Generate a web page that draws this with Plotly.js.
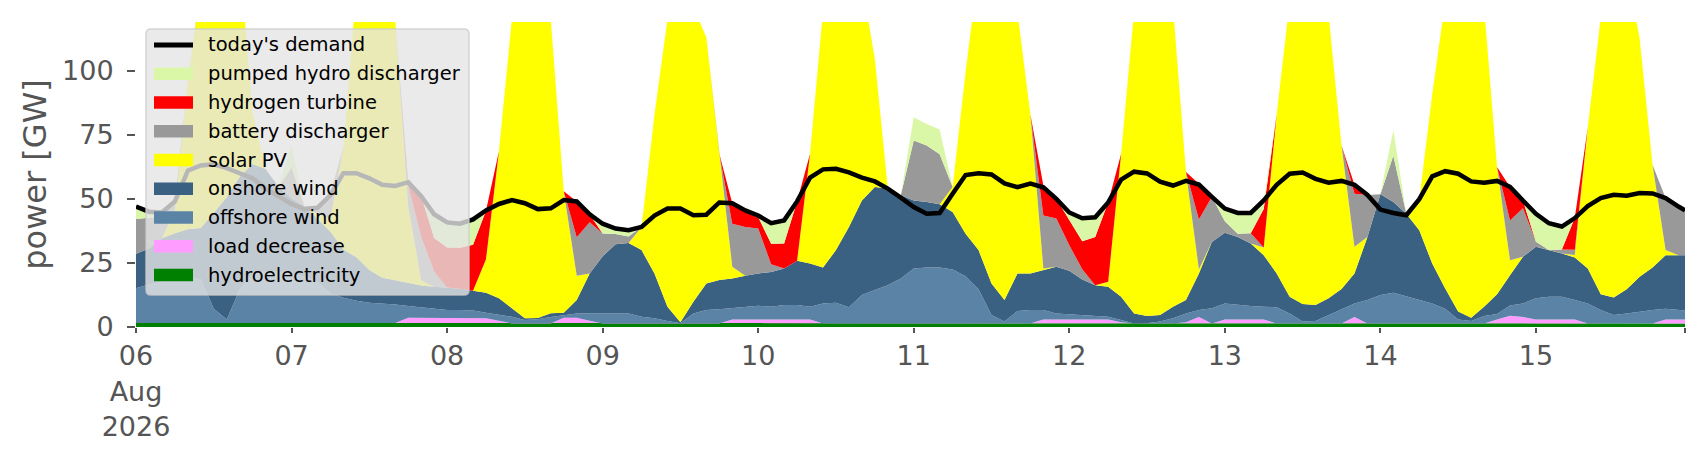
<!DOCTYPE html>
<html>
<head>
<meta charset="utf-8">
<script src="https://cdn.plot.ly/plotly-3.0.1.min.js"></script>
<style>
  html, body { margin: 0; padding: 0; background: #ffffff; }
  #chart { width: 1706px; height: 460px; }
</style>
</head>
<body>
<div id="chart"></div>
<script>
// Power dispatch, 06-15 Aug 2026, read every 2 hours (last sample 15 Aug 23:00), GW

const hydroelectricity = [
  1.6, 1.6, 1.6, 1.6, 1.6, 1.6, 1.6, 1.6, 1.6, 1.6, 1.6, 1.6,
  1.6, 1.6, 1.6, 1.6, 1.6, 1.6, 1.6, 1.6, 1.6, 1.6, 1.6, 1.6,
  1.4, 1.4, 1.4, 1.4, 1.4, 1.4, 1.4, 1.4, 1.4, 1.4, 1.4, 1.4,
  1.4, 1.4, 1.4, 1.4, 1.4, 1.4, 1.4, 1.4, 1.4, 1.4, 1.4, 1.4,
  1.4, 1.4, 1.4, 1.4, 1.4, 1.4, 1.4, 1.4, 1.4, 1.4, 1.4, 1.4,
  1.4, 1.4, 1.4, 1.4, 1.4, 1.4, 1.4, 1.4, 1.4, 1.4, 1.4, 1.4,
  1.4, 1.4, 1.4, 1.4, 1.4, 1.4, 1.4, 1.4, 1.4, 1.4, 1.4, 1.4,
  1.4, 1.4, 1.4, 1.4, 1.4, 1.4, 1.4, 1.4, 1.4, 1.4, 1.4, 1.4,
  1.4, 1.4, 1.4, 1.4, 1.4, 1.4, 1.4, 1.4, 1.4, 1.4, 1.4, 1.4,
  1.4, 1.4, 1.4, 1.4, 1.4, 1.4, 1.4, 1.4, 1.4, 1.4, 1.4, 1.4, 1.4
];

const loadDecrease = [
  0, 0, 0, 0, 0, 0, 0, 0, 0, 0, 0, 0,
  0, 0, 0, 0, 0, 0, 0, 0, 0, 2, 2, 2,
  2, 2, 2, 2, 1, 0, 0, 0, 0, 2.2, 2.2, 1,
  0, 0, 0, 0, 0, 0, 0, 0, 0, 0, 1.5, 1.5,
  1.5, 1.5, 1.5, 1.5, 1.5, 0, 0, 0, 0, 0, 0, 0,
  0, 0, 0, 0, 0, 0, 0, 0, 0, 0, 1.5, 1.5,
  1.5, 1.5, 1.5, 1.5, 0.5, 0, 0, 0, 0, 0.5, 2.5, 0,
  1.5, 1.5, 1.5, 1.5, 0, 0, 0, 0, 0, 0, 2.5, 0,
  0, 0, 0, 0, 0, 0, 0, 0, 0, 1.5, 3, 2.5,
  1.5, 1.5, 1.5, 1.5, 0, 0, 0, 0, 0, 0, 1.5, 1.5, 1.5
];

const offshoreWind = [
  13.5, 15, 16, 17, 18, 17, 5.5, 1.3, 13, 19, 20, 20,
  19, 18, 16, 11.6, 9.8, 8.6, 7.9, 7.6, 7.2, 4.6, 4, 3.6,
  3.2, 3.2, 3, 2.2, 2.4, 2.6, 1.3, 1.6, 2.5, 1.1, 1.7, 2.9,
  3.9, 3.9, 3.9, 2.6, 2, 0.9, 0.1, 3.9, 5.2, 5.5, 4.4, 4.8,
  5.4, 5, 5.7, 5.7, 5, 7.8, 8.1, 6.3, 11.1, 13, 14.9, 17.5,
  21.4, 21.8, 21.8, 21, 18.4, 13.3, 3.3, 0.7, 4.8, 5.2, 3.7, 2.4,
  2, 1.8, 1.4, 1.1, 0.8, 0, 0.1, 0.7, 2, 3.4, 2.7, 5.9,
  6.3, 5.7, 5.3, 5, 6.3, 3.9, 0.7, 0.9, 3.3, 5.7, 5.3, 9.1,
  11.1, 12, 10.6, 9.1, 7.8, 5.7, 1.5, 0.9, 2.9, 2.2, 4, 5.3,
  8.3, 8.9, 8.9, 7.6, 7.8, 5.2, 3.3, 3.9, 4.6, 5.2, 4.2, 3.7, 3.5
];

const onshoreWind = [
  13.5, 14, 17, 18, 18.5, 20, 37.5, 47.7, 44, 43, 40, 33,
  29.6, 27.4, 24.6, 24, 18.8, 17, 12.7, 10, 9.4, 9, 8.6, 8.5,
  8.8, 8.3, 7.7, 7.8, 6.4, 3.3, 0.7, 0.5, 1.5, 0.9, 5.2, 15.6,
  22.3, 27, 27.5, 26, 17.5, 5.6, 0.4, 4.6, 10.4, 11.4, 11.6, 12.3,
  12.6, 13.6, 14.2, 17.2, 16.9, 14, 20.5, 31.3, 36.9, 40.2, 37.7, 32.5,
  26.6, 25.6, 24.7, 22.5, 16.6, 15.3, 12.3, 8.4, 14.7, 14.3, 15.6, 18.2,
  17, 13.8, 12, 11.7, 9.1, 3.9, 2.8, 2.6, 4.5, 5.2, 14.3, 25.9,
  27.6, 26.5, 24.4, 20.1, 13.2, 6.5, 6.9, 6.3, 6.5, 7.7, 11.7, 24.6,
  39.3, 35.4, 32.2, 27.2, 15.6, 7.9, 3.1, 1.3, 3.6, 7.7, 11.8, 18.2,
  20.1, 18.2, 16.9, 16.6, 13.6, 6.2, 6.8, 9.4, 13.6, 16.6, 20.9, 21.4, 21.6
];

const solarPV = [
  0, 0, 0, 9, 58, 95, 125, 120, 85, 20, 0, 0,
  0, 0, 2, 5, 40, 105, 110, 105, 101, 30, 2, 0,
  0, 0, 0, 13, 57.4, 113, 140, 135, 114.6, 47.4, 9.5, 0,
  0, 0, 0, 9, 62, 112, 140, 115, 96, 49.3, 4.6, 0,
  0, 0, 0, 0, 42.8, 100, 130, 120, 85, 50, 0, 0,
  0, 0, 0, 9.7, 63, 110, 130, 125, 102, 62, 0.6, 0,
  0, 0, 0, 2, 55.8, 118, 140, 135, 117, 50, 1.5, 0,
  0, 0, 0, 3, 62, 115, 140, 135, 111, 56, 10.4, 0,
  0, 0, 0, 12, 66, 112, 140, 135, 117, 49.6, 5.8, 0,
  0, 0, 0, 1, 55, 108, 135, 125, 93, 40, 2, 0, 0
];

const batteryDischarger = [
  13.5, 12, 8.5, 3.6, 0, 0, 0, 0, 0, 0, 0, 0,
  12, 0, 3, 10, 0, 0, 0, 0, 0, 8, 17, 6,
  0, 0, 0, 0, 0, 0, 0, 0, 0, 0, 15, 20,
  8.9, 4, 2.5, 0, 0, 0, 0, 0, 0, 0, 16.8, 19,
  17.5, 3, 0, 0, 0, 0, 0, 0, 0, 0, 0, 0,
  23.4, 22, 19.5, 0, 0, 0, 0, 0, 0, 0, 20.7, 18.8,
  10, 4, 0, 0, 0, 0, 0, 0, 0, 0, 19.5, 17.6,
  4.5, 1.3, 4, 0, 0, 0, 0, 0, 0, 0, 20.7, 16.4,
  0, 18, 0, 0, 0, 0, 0, 0, 0, 0, 15.6, 18.9,
  2, 0, 1.5, 2, 0, 0, 0, 0, 0, 0, 20.3, 19, 17.5
];

const hydrogenTurbine = [
  0, 0, 0, 0, 0, 0, 0, 0, 0, 0, 0, 0,
  0, 0, 0, 0, 0, 0, 0, 0, 0, 1.5, 16, 13,
  15.6, 16, 18, 19, 0, 0, 0, 0, 0, 0, 14, 3,
  0, 0, 0, 0, 0, 0, 0, 0, 0, 0, 8, 6.5,
  4.5, 8, 9.8, 23.2, 0, 0, 0, 0, 0, 0, 0, 0,
  0, 0, 0, 0, 0, 0, 0, 0, 0, 0, 11.7, 7.7,
  10, 11, 18.8, 31, 0, 0, 0, 0, 0, 0, 14, 0,
  0, 0, 0, 15, 0, 0, 0, 0, 0, 0, 3.5, 0,
  0, 0, 0, 0, 0, 0, 0, 0, 0, 0, 13, 3,
  0, 0, 0, 12.5, 0, 0, 0, 0, 0, 0, 0, 0, 0
];

const pumpedHydroDischarger = [
  5, 2.6, 1.8, 0, 0, 0, 0, 0, 0, 0, 0, 0,
  9, 0, 0, 0, 0, 0, 0, 0, 0, 0, 0, 9.5,
  9.5, 9.5, 10, 0, 0, 0, 0, 0, 0, 0, 0, 0,
  3.8, 2, 2.5, 0, 0, 0, 0, 0, 0, 0, 0, 0,
  0, 8, 8.4, 0, 0, 0, 0, 0, 0, 0, 0, 0,
  9, 8.4, 9.7, 0, 0, 0, 0, 0, 0, 0, 0, 0,
  2.5, 8.5, 7.7, 0, 0, 0, 0, 0, 0, 0, 0, 0,
  4.5, 8, 8, 3, 0, 0, 0, 0, 0, 0, 0, 0,
  0, 10, 0, 0, 0, 0, 0, 0, 0, 0, 0, 0,
  10.9, 10.5, 9, 0, 0, 0, 0, 0, 0, 0, 0, 0, 0
];

const todaysDemand = [
  47, 45, 44.7, 49, 61, 63, 63.5, 62, 60, 58, 54, 51,
  48, 46, 46.5, 51.5, 60, 60, 58, 55.5, 55, 56.5, 51, 44,
  40.8, 40.3, 42, 45.5, 48, 49.5, 48.3, 46, 46.3, 49.5, 49, 44,
  40.3, 38.4, 37.8, 39, 43.5, 46.2, 46.2, 43.6, 43.8, 48.6, 48.3, 45.5,
  43.5, 40.5, 41.6, 49, 58.3, 61.5, 61.7, 60.3, 58.3, 56.8, 54, 50.5,
  46.8, 44.2, 44.5, 52, 59.3, 60, 59.5, 56, 54.6, 56, 54.5, 50,
  44.7, 42.4, 42.8, 48.6, 57.5, 60.6, 59.9, 56.7, 55.2, 57, 55.6, 50.8,
  46.2, 44.5, 44.5, 49.4, 55.5, 59.8, 60.3, 57.8, 56.3, 57, 55.5, 51.5,
  45.8, 44.5, 43.6, 49.9, 58.8, 60.8, 59.8, 56.8, 56.3, 57, 54.7, 49.3,
  44.2, 40.5, 39.2, 42.5, 47.2, 50.3, 51.6, 51.2, 52.3, 52.1, 50.3, 47, 45.5
];

const dayTicks = ["2026-08-06", "2026-08-07", "2026-08-08", "2026-08-09", "2026-08-10",
  "2026-08-11", "2026-08-12", "2026-08-13", "2026-08-14", "2026-08-15", "2026-08-15 23:00"];
const dayLabels = ["06<br>Aug<br>2026", "07", "08", "09", "10", "11", "12", "13", "14", "15", ""];

// timestamps: every 2 h from the start, plus the final hour
function buildTimes(n) {
  const start = Date.UTC(2026, 7, 6, 0, 0, 0);
  const out = [];
  for (let i = 0; i < n - 1; i++) out.push(start + i * 2 * 3600e3);
  out.push(start + 239 * 3600e3);
  return out.map((t) => new Date(t).toISOString().slice(0, 16).replace("T", " "));
}
const times = buildTimes(todaysDemand.length);

// bottom of the stack first
const stackSeries = [
  { name: "hydroelectricity", y: hydroelectricity, color: "#008000" },
  { name: "load decrease", y: loadDecrease, color: "#ff9cff" },
  { name: "offshore wind", y: offshoreWind, color: "#5b83a6" },
  { name: "onshore wind", y: onshoreWind, color: "#3b6182" },
  { name: "solar PV", y: solarPV, color: "#ffff00" },
  { name: "battery discharger", y: batteryDischarger, color: "#999999" },
  { name: "hydrogen turbine", y: hydrogenTurbine, color: "#ff0000" },
  { name: "pumped hydro discharger", y: pumpedHydroDischarger, color: "#daf7a8" },
];

const traces = stackSeries.map((s) => ({
  x: times,
  y: s.y,
  name: s.name,
  type: "scatter",
  mode: "lines",
  stackgroup: "supply",
  fillcolor: s.color,
  line: { width: 0, color: s.color },
}));

traces.push({
  x: times,
  y: todaysDemand,
  name: "today's demand",
  type: "scatter",
  mode: "lines",
  line: { color: "#000000", width: 4.5 },
});

// ---- hand-drawn legend (matplotlib style boxes), pixel geometry -> paper coords
const plotLeft = 136, plotRight = 1685, plotTop = 22, plotBottom = 327;
const px = (v) => (v - plotLeft) / (plotRight - plotLeft);
const py = (v) => (plotBottom - v) / (plotBottom - plotTop);

const box = { left: 146, top: 29, right: 469, bottom: 295, r: 5 };
const rowY0 = 45, rowPitch = 28.75;
const patchX0 = 154, patchX1 = 193, patchH = 12.5, textX = 206;

const legendEntries = [{ name: "today's demand", color: "#000000", line: true }]
  .concat(stackSeries.slice().reverse().map((s) => ({ name: s.name, color: s.color })));

function roundedRect(b) {
  const x0 = px(b.left), x1 = px(b.right), y0 = py(b.bottom), y1 = py(b.top);
  const rx = b.r / (plotRight - plotLeft), ry = b.r / (plotBottom - plotTop);
  return `M${x0 + rx},${y1} L${x1 - rx},${y1} Q${x1},${y1} ${x1},${y1 - ry} ` +
    `L${x1},${y0 + ry} Q${x1},${y0} ${x1 - rx},${y0} L${x0 + rx},${y0} ` +
    `Q${x0},${y0} ${x0},${y0 + ry} L${x0},${y1 - ry} Q${x0},${y1} ${x0 + rx},${y1} Z`;
}

const shapes = [{
  type: "path", xref: "paper", yref: "paper", layer: "above",
  path: roundedRect(box),
  fillcolor: "rgba(229,229,229,0.8)",
  line: { color: "rgba(204,204,204,0.8)", width: 1.5 },
}];
const annotations = [];

legendEntries.forEach((e, i) => {
  const cy = rowY0 + i * rowPitch;
  if (e.line) {
    shapes.push({
      type: "line", xref: "paper", yref: "paper", layer: "above",
      x0: px(patchX0), x1: px(patchX1), y0: py(cy), y1: py(cy),
      line: { color: e.color, width: 5 },
    });
  } else {
    shapes.push({
      type: "rect", xref: "paper", yref: "paper", layer: "above",
      x0: px(patchX0), x1: px(patchX1), y0: py(cy + patchH / 2), y1: py(cy - patchH / 2),
      fillcolor: e.color, line: { width: 0 },
    });
  }
  annotations.push({
    xref: "paper", yref: "paper", x: px(textX), y: py(cy),
    xanchor: "left", yanchor: "middle", showarrow: false,
    text: e.name, font: { family: "DejaVu Sans", size: 19.5, color: "#000000" },
  });
});

const grey = "#555555";
const layout = {
  width: 1706,
  height: 460,
  margin: { l: plotLeft, r: 1706 - plotRight, t: plotTop, b: 460 - plotBottom },
  paper_bgcolor: "#ffffff",
  plot_bgcolor: "#ffffff",
  font: { family: "DejaVu Sans", color: grey },
  showlegend: false,
  shapes: shapes,
  annotations: annotations,
  xaxis: {
    type: "date",
    range: ["2026-08-06 00:00", "2026-08-15 23:00"],
    tickvals: dayTicks,
    ticktext: dayLabels,
    ticks: "outside",
    ticklen: 5,
    tickwidth: 2,
    tickcolor: grey,
    tickfont: { size: 27, color: grey },
    showgrid: false,
    zeroline: false,
    showline: false,
  },
  yaxis: {
    range: [0, 119],
    tickvals: [0, 25, 50, 75, 100],
    ticks: "outside",
    ticklen: 8,
    tickwidth: 2,
    tickcolor: grey,
    ticklabelstandoff: 8,
    tickfont: { size: 27, color: grey },
    showgrid: false,
    zeroline: false,
    showline: false,
    title: { text: "power [GW]", font: { size: 32, color: grey }, standoff: 5 },
  },
};

Plotly.newPlot("chart", traces, layout, { staticPlot: true, displayModeBar: false });
</script>
</body>
</html>
